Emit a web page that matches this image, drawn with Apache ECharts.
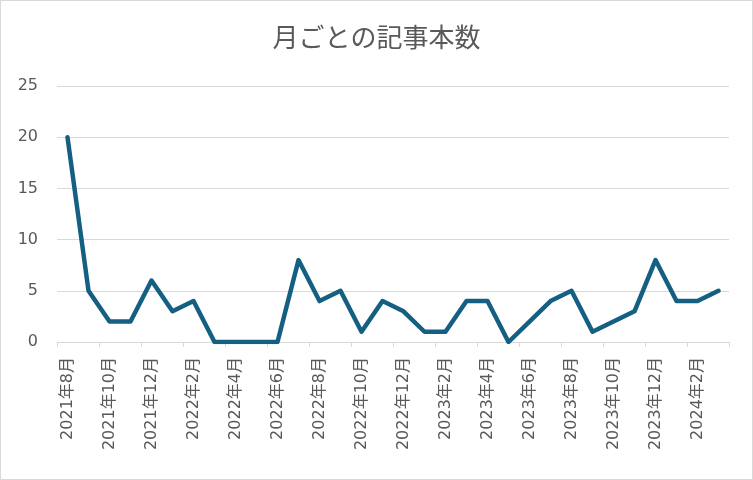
<!DOCTYPE html>
<html>
<head>
<meta charset="utf-8">
<script src="https://cdn.jsdelivr.net/npm/echarts@6/dist/echarts.min.js"></script>
<style>
  html, body { margin: 0; padding: 0; background: #fff; }
  #wrap { position: relative; width: 753px; height: 480px; }
  #chart { width: 753px; height: 480px; }
  #frame { position: absolute; left: 0; top: 0; width: 753px; height: 480px; box-sizing: border-box; border: 1px solid #d9d9d9; pointer-events: none; }
</style>
</head>
<body>
<div id="wrap"><div id="chart"></div><div id="frame"></div></div>
<script>
const titleText = '月ごとの記事本数';
const categories = [
  '2021年8月','2021年9月','2021年10月','2021年11月','2021年12月',
  '2022年1月','2022年2月','2022年3月','2022年4月','2022年5月','2022年6月',
  '2022年7月','2022年8月','2022年9月','2022年10月','2022年11月','2022年12月',
  '2023年1月','2023年2月','2023年3月','2023年4月','2023年5月','2023年6月',
  '2023年7月','2023年8月','2023年9月','2023年10月','2023年11月','2023年12月',
  '2024年1月','2024年2月','2024年3月'
];
const articleCounts = [
  20, 5, 2, 2, 6,
  3, 4, 0, 0, 0, 0,
  8, 4, 5, 1, 4, 3,
  1, 1, 4, 4, 0, 2,
  4, 5, 1, 2, 3, 8,
  4, 4, 5
];
const yTicks = { min: 0, max: 25, interval: 5 };

const FONT = '"Noto Sans CJK JP", "Noto Sans", sans-serif';
const LABEL_FONT = '"DejaVu Sans", "Noto Sans CJK JP", sans-serif';
const chart = echarts.init(document.getElementById('chart'), null, { renderer: 'canvas' });
chart.setOption({
  animation: false,
  backgroundColor: '#ffffff',
  title: {
    text: titleText,
    left: 'center',
    top: 19,
    textStyle: { fontFamily: FONT, fontSize: 26, fontWeight: 'normal', color: '#595959' }
  },
  grid: { left: 57, right: 24, top: 86, bottom: 138, containLabel: false },
  xAxis: {
    type: 'category',
    data: categories,
    boundaryGap: true,
    axisLine: { show: true, lineStyle: { color: '#d9d9d9', width: 1 } },
    axisTick: { show: true, interval: 1, length: 5, lineStyle: { color: '#d9d9d9' } },
    axisLabel: {
      interval: 1,
      rotate: 90,
      margin: 15,
      fontFamily: LABEL_FONT,
      fontSize: 16,
      color: '#595959'
    },
    splitLine: { show: false }
  },
  yAxis: {
    type: 'value',
    min: yTicks.min,
    max: yTicks.max,
    interval: yTicks.interval,
    axisLine: { show: false },
    axisTick: { show: false },
    axisLabel: { margin: 19, fontFamily: LABEL_FONT, fontSize: 16, color: '#595959' },
    splitLine: { show: true, lineStyle: { color: '#d9d9d9', width: 1 } }
  },
  series: [{
    type: 'line',
    data: articleCounts,
    symbol: 'none',
    lineStyle: { color: '#156082', width: 4.5, cap: 'round', join: 'round' },
    itemStyle: { color: '#156082' }
  }]
});
</script>
</body>
</html>
